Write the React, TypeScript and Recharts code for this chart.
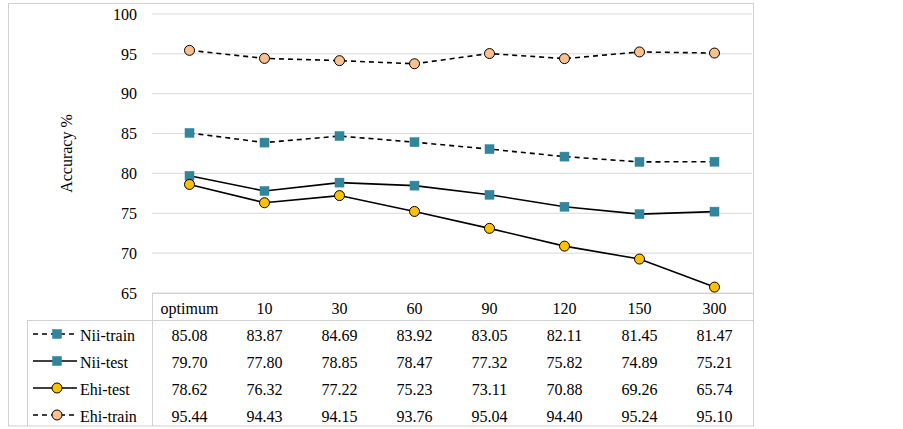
import React from "react";
import { LineChart, Line, XAxis, YAxis, CartesianGrid, Label, Text } from "recharts";

const categories = ["optimum", "10", "30", "60", "90", "120", "150", "300"];
const niiTrain = [85.08, 83.87, 84.69, 83.92, 83.05, 82.11, 81.45, 81.47];
const niiTest = [79.7, 77.8, 78.85, 78.47, 77.32, 75.82, 74.89, 75.21];
const ehiTest = [78.62, 76.32, 77.22, 75.23, 73.11, 70.88, 69.26, 65.74];
const ehiTrain = [95.44, 94.43, 94.15, 93.76, 95.04, 94.4, 95.24, 95.1];
const yTicks = [65, 70, 75, 80, 85, 90, 95, 100];

const FONT = "Liberation Serif";
const TEAL = "#31859C";
const YELLOW = "#FFC000";
const PEACH = "#FAC090";

type SeriesCfg = { key: string; name: string; values: number[]; dashed: boolean; shape: "square" | "circle"; fill: string };
const series: SeriesCfg[] = [
  { key: "niiTrain", name: "Nii-train", values: niiTrain, dashed: true, shape: "square", fill: TEAL },
  { key: "niiTest", name: "Nii-test", values: niiTest, dashed: false, shape: "square", fill: TEAL },
  { key: "ehiTest", name: "Ehi-test", values: ehiTest, dashed: false, shape: "circle", fill: YELLOW },
  { key: "ehiTrain", name: "Ehi-train", values: ehiTrain, dashed: true, shape: "circle", fill: PEACH },
];

const data = categories.map((c, i) => {
  const row: Record<string, any> = { cat: c };
  series.forEach((s) => (row[s.key] = s.values[i]));
  return row;
});

function Marker({ cx, cy, s }: { cx: number; cy: number; s: SeriesCfg }) {
  if (s.shape === "square") {
    return <rect x={cx - 4.5} y={cy - 4.5} width={9} height={9} fill={s.fill} stroke={s.fill} strokeWidth={0.5} />;
  }
  return <circle cx={cx} cy={cy} r={5} fill={s.fill} stroke="#000" strokeWidth={1} />;
}

const makeDot = (s: SeriesCfg) => (props: any) => {
  const { cx, cy, index } = props;
  if (cx == null || cy == null) return <g key={`${s.key}-${index}`} />;
  return (
    <g key={`${s.key}-${index}`}>
      <Marker cx={cx} cy={cy} s={s} />
    </g>
  );
};

const TableTick = (props: any) => {
  const { x, y, payload } = props;
  const i = categories.indexOf(payload.value);
  return (
    <g>
      <Text x={x} y={y + 21} textAnchor="middle" fontFamily={FONT} fontSize={16} fill="#000">
        {payload.value}
      </Text>
      {series.map((s, r) => (
        <Text key={s.key} x={x} y={y + 48 + r * 27} textAnchor="middle" fontFamily={FONT} fontSize={16} fill="#000">
          {s.values[i].toFixed(2)}
        </Text>
      ))}
    </g>
  );
};

export default function App() {
  const border = "#d0d0d0";
  return (
    <div style={{ position: "absolute", left: 0, top: 0, width: 903, height: 429, background: "#fff" }}>
      <LineChart width={903} height={429} data={data} margin={{ top: 14, right: 151, bottom: 0, left: 0 }}>
        <CartesianGrid vertical={false} stroke="#d9d9d9" strokeWidth={1} />
        <XAxis
          dataKey="cat"
          height={136}
          axisLine={false}
          tickLine={false}
          tickSize={0}
          tickMargin={0}
          interval={0}
          padding={{ left: 37.5, right: 37.5 }}
          tick={TableTick}
        />
        <YAxis
          width={152}
          domain={[65, 100]}
          ticks={yTicks}
          axisLine={false}
          tickLine={false}
          tickSize={0}
          tickMargin={15}
          tick={{ fontFamily: FONT, fontSize: 16, fill: "#000" }}
        >
          <Label value="Accuracy %" angle={-90} position="insideLeft" offset={66} style={{ textAnchor: "middle" }} fontFamily={FONT} fontSize={16} fill="#000" />
        </YAxis>
        {series.map((s) => (
          <Line
            key={s.key}
            dataKey={s.key}
            name={s.name}
            stroke="#000"
            strokeWidth={1.6}
            strokeDasharray={s.dashed ? "5 4" : undefined}
            dot={makeDot(s)}
            activeDot={false}
            isAnimationActive={false}
          />
        ))}
      </LineChart>
      <svg width={903} height={429} style={{ position: "absolute", left: 0, top: 0, pointerEvents: "none" }}>
        <rect x={8.5} y={3.5} width={745} height={422.5} fill="none" stroke={border} strokeWidth={1} />
        <line x1={152} y1={293.5} x2={753} y2={293.5} stroke={border} />
        <line x1={27} y1={320.5} x2={753} y2={320.5} stroke={border} />
        <line x1={152.5} y1={293} x2={152.5} y2={426} stroke={border} />
        <line x1={27.5} y1={320} x2={27.5} y2={426} stroke={border} />
        {series.map((s, r) => {
          const cy = 334 + r * 27;
          return (
            <g key={s.key}>
              <line x1={33} y1={cy} x2={77} y2={cy} stroke="#000" strokeWidth={1.6} strokeDasharray={s.dashed ? "5 4" : undefined} />
              <Marker cx={57} cy={cy} s={s} />
              <text x={80} y={cy + 7} style={{ fontFamily: FONT, fontSize: 16 }} fill="#000">
                {s.name}
              </text>
            </g>
          );
        })}
      </svg>
    </div>
  );
}
